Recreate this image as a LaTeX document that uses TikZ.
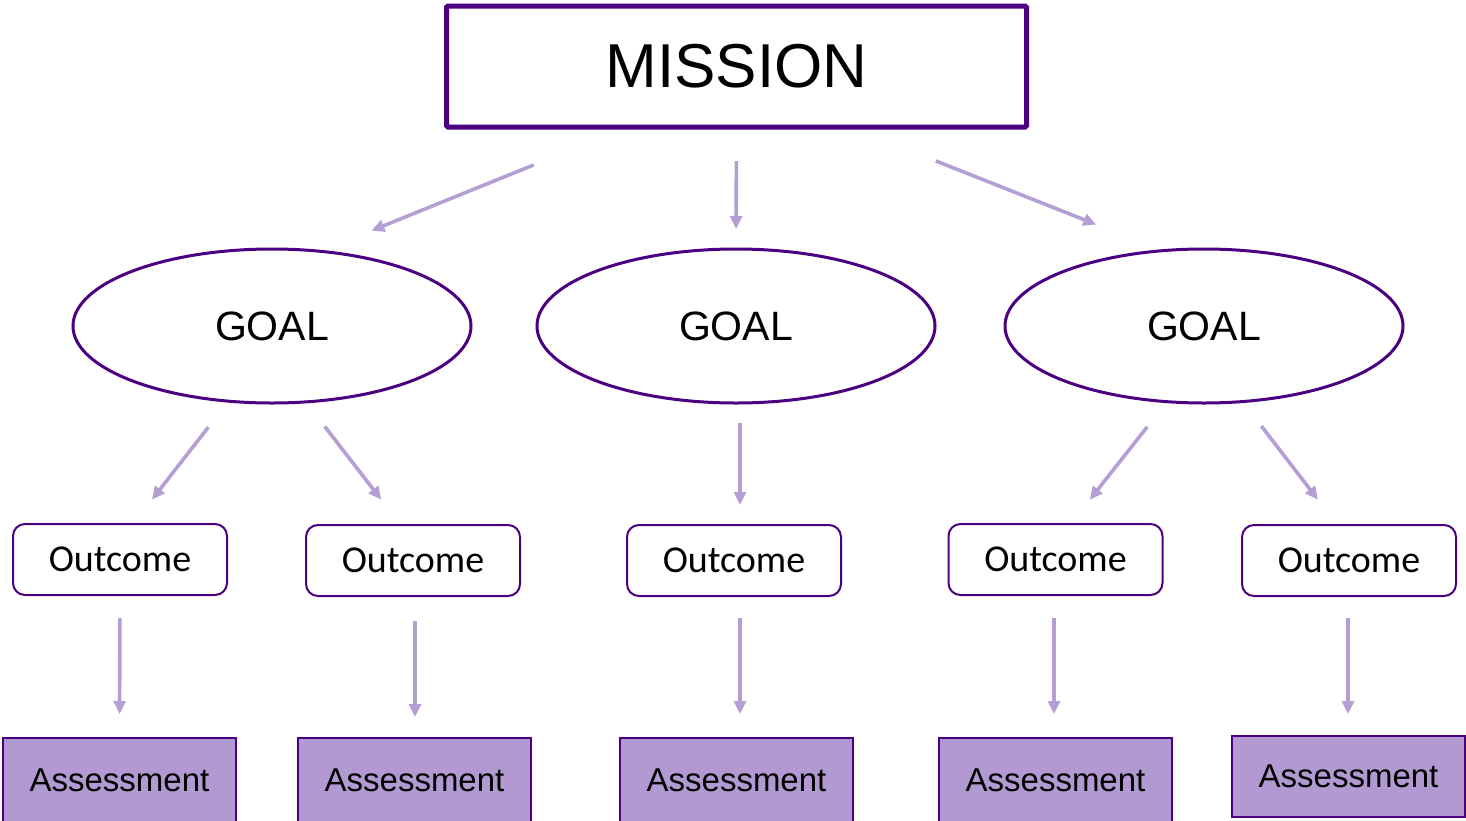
\documentclass[tikz,border=0pt]{standalone}
\usepackage{fontspec}
\setmainfont{Liberation Sans}
\newfontfamily\outfont{Carlito}
\usepackage{tikz}
\usetikzlibrary{arrows.meta,shapes.geometric}
\definecolor{deep}{HTML}{4B0082}
\definecolor{lilac}{HTML}{B399D1}
\definecolor{wire}{HTML}{B49FD4}
\tikzset{link/.style={-{Triangle[length=13pt,width=12pt]},draw=wire,line width=3.6pt},missionbox/.style={draw=deep,line width=5pt,rounded corners=1.5pt,minimum width=580pt,minimum height=121pt,inner sep=0pt,outer sep=0pt,font=\fontsize{62}{70}\selectfont},goalring/.style={ellipse,draw=deep,line width=3pt,minimum width=398pt,minimum height=154pt,inner sep=0pt,outer sep=0pt,font=\fontsize{41}{48}\selectfont},outbox/.style={draw=deep,line width=2pt,rounded corners=12pt,minimum width=214pt,minimum height=71pt,inner sep=0pt,outer sep=0pt,font=\outfont\fontsize{38}{44}\selectfont},assessbox/.style={draw=deep,fill=lilac,line width=2pt,minimum width=233pt,minimum height=85pt,inner sep=0pt,outer sep=0pt,font=\fontsize{33}{40}\selectfont}}
\begin{document}
\begin{tikzpicture}[x=1pt,y=-1pt]
 \useasboundingbox (0,0) rectangle (1466,820); \clip (0,0) rectangle (1466,820);
 \node[missionbox] (mission) at (736.5,66.5) {MISSION};
 \foreach \n/\x in {1/272,2/736,3/1204}{\node[goalring] (goal\n) at (\x,326) {GOAL};}
 \foreach \n/\x/\y in {1/120/559.5,2/413/560.5,3/734/560.5,4/1055.5/559.5,5/1349/560.5}{\node[outbox] (out\n) at (\x,\y) {Outcome};}
 \foreach \n/\x/\y/\h in {1/119.5/780.5/85,2/414.5/780.5/85,3/736.5/780.5/85,4/1055.5/780.5/85,5/1348.5/776.5/81}{\node[assessbox,minimum height=\h pt] (ass\n) at (\x,\y) {Assessment};}
 \foreach \u/\v/\p/\q/\s/\e in {mission/goal1/209/57/101/55,mission/goal2/270/90/34/20,mission/goal3/332/119/92/71,goal1/out1/240/70/33/31,goal1/out2/294/109/31/32,goal3/out4/244/67/32/31,goal3/out5/297/108/31/32}{\draw[link,shorten <=\s pt,shorten >=\e pt] (\u.\p) -- (\v.\q);}
 \foreach \u/\v/\d/\f/\s/\e in {goal2/out3/4/6/20/20,out1/ass1/0/0/23/24,out2/ass2/2/0.5/25/21,out3/ass3/6/3.5/22/24,out4/ass4/-1.5/-1.5/23/24,out5/ass5/-1/-0.5/22/22}{\draw[link,shorten <=\s pt,shorten >=\e pt] ([xshift=\d pt]\u.south) -- ([xshift=\f pt]\v.north);}
\end{tikzpicture}
\end{document}
